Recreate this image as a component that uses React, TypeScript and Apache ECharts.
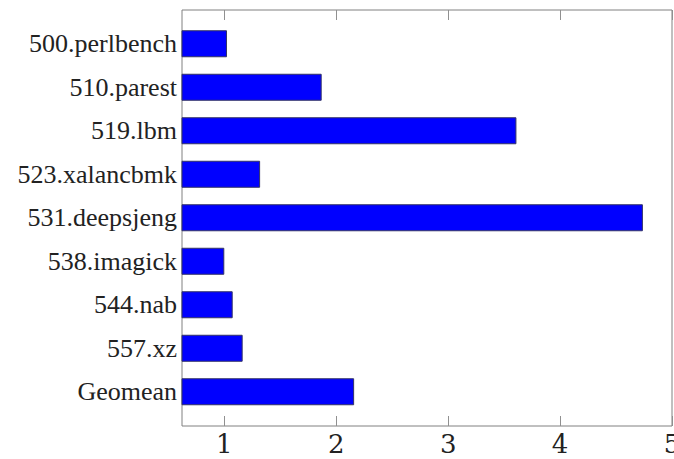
import React, { useEffect, useRef } from "react";
import * as echarts from "echarts";

const categories = [
  "500.perlbench",
  "510.parest",
  "519.lbm",
  "523.xalancbmk",
  "531.deepsjeng",
  "538.imagick",
  "544.nab",
  "557.xz",
  "Geomean",
];
const speedups = [1.024, 1.87, 3.61, 1.32, 4.74, 1.0, 1.075, 1.164, 2.16];
const xTicks = [1, 2, 3, 4, 5];
const xMin = 0.622;
const xMax = 5;

export default function App() {
  const ref = useRef<HTMLDivElement>(null);
  useEffect(() => {
    if (!ref.current) return;
    const chart = echarts.init(ref.current, null, { renderer: "svg" });
    const serif = "DejaVu Serif";
    const serif2 = "Liberation Serif, serif";
    const grids = [
      { left: 182, right: 2, top: 10, bottom: 33, show: true, borderColor: "#808080", borderWidth: 1, backgroundColor: "transparent", outerBoundsMode: "none" },
      { left: 182, right: 2, top: 22, bottom: 45.5, outerBoundsMode: "none" },
    ];
    chart.setOption({
      animation: false,
      backgroundColor: "#ffffff",
      textStyle: { fontFamily: serif2 },
      grid: grids,
      xAxis: [
        {
          type: "value",
          gridIndex: 0,
          position: "bottom",
          min: xMin,
          max: xMax,
          splitLine: { show: false },
          axisLine: { show: false },
          axisTick: { show: true, inside: true, length: 10, customValues: xTicks, lineStyle: { color: "#909090" } },
          axisLabel: {
            show: true,
            customValues: xTicks,
            margin: 5,
            fontFamily: serif,
            fontSize: 26,
            color: "#222",
            alignMinLabel: "center",
            alignMaxLabel: "center",
            hideOverlap: false,
          },
        },
        {
          type: "value",
          gridIndex: 0,
          position: "top",
          min: xMin,
          max: xMax,
          splitLine: { show: false },
          axisLine: { show: false },
          axisTick: { show: true, inside: true, length: 10, customValues: xTicks, lineStyle: { color: "#909090" } },
          axisLabel: { show: false },
        },
        {
          type: "value",
          gridIndex: 1,
          min: xMin,
          max: xMax,
          show: false,
        },
      ],
      yAxis: [
        { type: "value", gridIndex: 0, show: false },
        {
          type: "category",
          gridIndex: 1,
          data: categories,
          inverse: true,
          axisLine: { show: false },
          axisTick: { show: false },
          splitLine: { show: false },
          axisLabel: { margin: 5, fontFamily: serif2, fontSize: 26, color: "#222" },
        },
      ],
      series: [
        {
          type: "bar",
          xAxisIndex: 2,
          yAxisIndex: 1,
          data: speedups,
          barWidth: 27,
          itemStyle: { color: "#0000ff", borderColor: "#333366", borderWidth: 1 },
        },
      ],
    });
    return () => chart.dispose();
  }, []);
  return (
    <div
      ref={ref}
      style={{ position: "fixed", left: 0, top: 0, width: 674, height: 459 }}
    />
  );
}
